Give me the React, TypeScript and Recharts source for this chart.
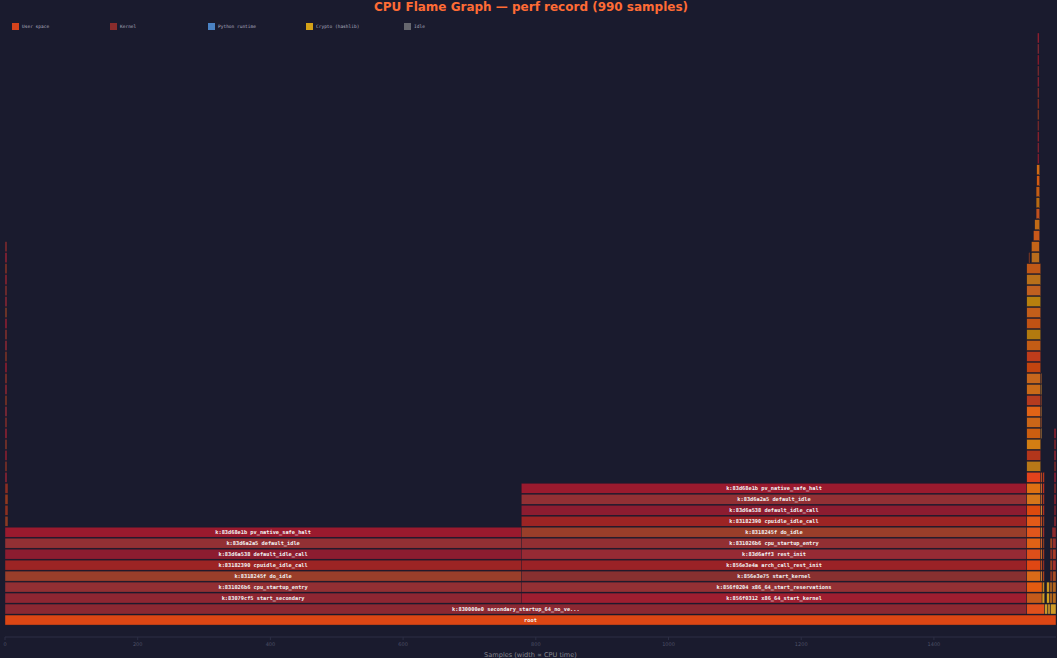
import { BarChart, Bar, XAxis, YAxis } from 'recharts';

// [name, depth, startSample, endSample]
type Frame = [string, number, number, number];

const TOTAL_WIDTH = 1584;
const TOP_DEPTH = 54;
const X_TICKS = [0, 200, 400, 600, 800, 1000, 1200, 1400];

const LEGEND_LABELS = ['User space', 'Kernel', 'Python runtime', 'Crypto (hashlib)', 'Idle'];
const LEGEND_COLORS = ['#d4431c', '#8a2c2c', '#4a82c4', '#d4a218', '#66676e'];

const ROOT_FRAMES: Frame[] = [
  ['root', 0, 0, 1584],
  ['k:830000e0 secondary_startup_64_no_verify', 1, 0, 1540],
];

const SECONDARY_CPU_FRAMES: Frame[] = [
  ['k:83079cf5 start_secondary', 2, 0, 778],
  ['k:831026b6 cpu_startup_entry', 3, 0, 778],
  ['k:8318245f do_idle', 4, 0, 778],
  ['k:83182390 cpuidle_idle_call', 5, 0, 778],
  ['k:83d6a538 default_idle_call', 6, 0, 778],
  ['k:83d6a2a5 default_idle', 7, 0, 778],
  ['k:83d68e1b pv_native_safe_halt', 8, 0, 778],
];

const BOOT_CPU_FRAMES: Frame[] = [
  ['k:856f0312 x86_64_start_kernel', 2, 778, 1540],
  ['k:856f0204 x86_64_start_reservations', 3, 778, 1540],
  ['k:856e3e75 start_kernel', 4, 778, 1540],
  ['k:856e3e4a arch_call_rest_init', 5, 778, 1540],
  ['k:83d6aff3 rest_init', 6, 778, 1540],
  ['k:831026b6 cpu_startup_entry', 7, 778, 1540],
  ['k:8318245f do_idle', 8, 778, 1540],
  ['k:83182390 cpuidle_idle_call', 9, 778, 1540],
  ['k:83d6a538 default_idle_call', 10, 778, 1540],
  ['k:83d6a2a5 default_idle', 11, 778, 1540],
  ['k:83d68e1b pv_native_safe_halt', 12, 778, 1540],
];

// thin timer-interrupt tower on the far left
const TIMER_IRQ_FRAMES: Frame[] = [
  ['k:83e01566 asm_sysvec_apic_timer_interrupt', 9, 0, 4.5],
  ['k:83d5c2f0 sysvec_apic_timer_interrupt', 10, 0, 4.5],
  ['k:831969a0 irq_exit_rcu', 11, 0, 4.5],
  ['k:83196810 __irq_exit_rcu', 12, 0, 4.5],
  ['k:83e0010c __do_softirq', 13, 0, 3],
  ['k:8311c2a7 run_timer_softirq', 14, 0, 3],
  ['k:8323f1c4 __run_timers', 15, 0, 3],
  ['k:8323ee52 call_timer_fn', 16, 0, 3],
  ['k:834f8a10 delayed_work_timer_fn', 17, 0, 3],
  ['k:83134d2b __queue_work', 18, 0, 3],
  ['k:83135f04 insert_work', 19, 0, 3],
  ['k:83140b7e wake_up_process', 20, 0, 3],
  ['k:8315ae91 try_to_wake_up', 21, 0, 3],
  ['k:8315c33a ttwu_do_activate', 22, 0, 3],
  ['k:83168a2c enqueue_task_fair', 23, 0, 3],
  ['k:8316795f enqueue_entity', 24, 0, 3],
  ['k:83160d48 update_load_avg', 25, 0, 3],
  ['k:8316fb20 __update_load_avg_se', 26, 0, 3],
  ['k:8315f3e9 check_preempt_curr', 27, 0, 3],
  ['k:83164c17 resched_curr', 28, 0, 3],
  ['k:8310a3d2 native_smp_send_reschedule', 29, 0, 3],
  ['k:830a6e81 x2apic_send_IPI', 30, 0, 3],
  ['k:830a1f53 __x2apic_send_IPI_dest', 31, 0, 3],
  ['k:830a0f1c native_apic_msr_write', 32, 0, 3],
  ['k:8309a2d0 native_write_msr', 33, 0, 3],
  ['k:8309a1b4 native_write_msr_safe', 34, 0, 3],
];

const PYTHON_FRAMES: Frame[] = [
  ['u:python3', 1, 1540, 1567],
  ['u:_start', 2, 1540, 1563],
  ['u:__libc_start_main', 3, 1540, 1563],
  ['u:__libc_start_call_main', 4, 1540, 1561],
  ['u:Py_BytesMain', 5, 1540, 1561],
  ['u:Py_RunMain', 6, 1540, 1561],
  ['u:pymain_run_python', 7, 1540, 1561],
  ['u:_PyRun_AnyFileObject', 8, 1540, 1561],
  ['u:_PyRun_SimpleFileObject', 9, 1540, 1561],
  ['u:pyrun_file', 10, 1540, 1561],
  ['u:run_mod', 11, 1540, 1561],
  ['u:run_eval_code_obj', 12, 1540, 1561],
  ['u:PyEval_EvalCode', 13, 1540, 1561],
  ['u:_PyEval_EvalFrameDefault', 14, 1540, 1561],
  ['py:<module>', 15, 1540, 1561],
  ['u:_PyEval_Vector', 16, 1540, 1561],
  ['py:main', 17, 1540, 1561],
  ['u:_PyFunction_Vectorcall', 18, 1540, 1561],
  ['py:run_benchmark', 19, 1540, 1561],
  ['u:PyObject_Vectorcall', 20, 1540, 1561],
  ['py:hash_workload', 21, 1540, 1561],
  ['u:_PyObject_MakeTpCall', 22, 1540, 1561],
  ['py:digest_file', 23, 1540, 1561],
  ['u:method_vectorcall_O', 24, 1540, 1561],
  ['py:update_chunks', 25, 1540, 1561],
  ['u:_hashlib_HASH_update', 26, 1540, 1561],
  ['u:EVP_DigestUpdate', 27, 1540, 1561],
  ['u:sha256_update', 28, 1540, 1561],
  ['u:ossl_sha256_update', 29, 1540, 1561],
  ['u:sha256_block_data_order_avx2', 30, 1540, 1561],
  ['u:__memmove_avx_unaligned_erms', 31, 1540, 1561],
  ['u:_PyBytes_FromSize', 32, 1540, 1561],
  ['u:PyGC_Collect', 33, 1543, 1544.5],
  ['u:PyObject_Malloc', 33, 1547, 1559],
  ['u:_PyObject_Malloc', 34, 1547, 1559],
  ['u:pymalloc_alloc', 35, 1550, 1559.5],
  ['u:allocate_from_new_pool', 36, 1552, 1559.5],
  ['u:_PyObject_ArenaMmap', 37, 1554, 1559.5],
  ['u:__mmap', 38, 1554, 1559.5],
  ['k:83e00130 entry_SYSCALL_64_after_hwframe', 39, 1554, 1559.5],
  ['k:83d5a8e1 do_syscall_64', 40, 1555, 1559.5],
  ['k:834d5c9f __x64_sys_mmap', 41, 1555, 1559.5],
  ['k:834d4e12 ksys_mmap_pgoff', 42, 1556, 1558.5],
  ['k:834d4a7a vm_mmap_pgoff', 43, 1556, 1558.5],
  ['k:834d1f3e do_mmap', 44, 1556, 1558.5],
  ['k:834d1a02 mmap_region', 45, 1556, 1558.5],
  ['k:83e01566 asm_sysvec_apic_timer_interrupt', 46, 1556, 1558.5],
  ['k:83d5c2f0 sysvec_apic_timer_interrupt', 47, 1556, 1558.5],
  ['k:83196a41 __sysvec_apic_timer_interrupt', 48, 1556, 1558.5],
  ['k:8323e4b8 hrtimer_interrupt', 49, 1556, 1558.5],
  ['k:8323d9e2 __hrtimer_run_queues', 50, 1556, 1558.5],
  ['k:83251b07 tick_nohz_highres_handler', 51, 1556, 1558.5],
  ['k:8322b7c4 update_process_times', 52, 1556, 1558.5],
  ['k:8312e8d5 scheduler_tick', 53, 1556, 1558.5],
];

// narrow siblings hugging the python tower
const SIDE_FRAMES: Frame[] = [
  ['u:_dl_start_user', 2, 1563, 1567],
  ['u:_dl_init', 3, 1563.5, 1566.5],
  ['u:_PyObject_GC_Link', 4, 1561, 1563],
  ['u:gc_collect_main', 5, 1561, 1563],
  ['u:deduce_unreachable', 6, 1561, 1563],
  ['u:move_unreachable', 7, 1561, 1563],
  ['u:visit_reachable', 8, 1561, 1563],
  ['u:subtract_refs', 9, 1561, 1563],
  ['u:visit_decref', 10, 1561, 1563],
  ['u:dict_traverse', 11, 1561, 1563],
  ['u:list_traverse', 12, 1561, 1563],
  ['u:tupletraverse', 13, 1561, 1563],
  ['u:PyUnicode_New', 17, 1561, 1562.5],
  ['u:_PyUnicode_JoinArray', 18, 1561, 1562.5],
  ['u:unicode_decode_utf8', 19, 1561, 1562.5],
  ['u:PyBytes_FromStringAndSize', 20, 1561, 1562.5],
  ['u:_PyLong_FromByteArray', 21, 1561, 1562.5],
  ['u:long_to_decimal_string', 22, 1561, 1562.5],
  ['u:__GI___libc_read', 4, 1564, 1566.5],
  ['k:83e0012a entry_SYSCALL_64', 5, 1564, 1566.5],
  ['k:83d5a8c0 x64_sys_call', 6, 1564, 1566.5],
  ['k:834fb2a0 ksys_read', 7, 1564, 1566.5],
  ['k:834f9c41 vfs_read', 8, 1564, 1566.5],
  ['k:8360d1b2 ext4_file_read_iter', 9, 1564, 1566.5],
  ['k:834a2e8c filemap_read', 10, 1564, 1566.5],
  ['k:834a1d50 copy_page_to_iter', 11, 1564, 1566.5],
  ['k:83902d4e _copy_to_user', 12, 1564, 1566.5],
  ['k:8390336a rep_movs_alternative', 13, 1564, 1566.5],
];

// worker-thread stacks at the right edge
const THREAD_FRAMES: Frame[] = [
  ['u:libc.so.6', 1, 1567, 1571],
  ['u:[unknown]', 1, 1571, 1576],
  ['u:libcrypto.so.3', 1, 1576, 1584],
  ['u:clone3', 2, 1570, 1574],
  ['u:start_thread', 2, 1574, 1579],
  ['u:pythread_wrapper', 2, 1579, 1584],
  ['u:thread_run', 3, 1570, 1574],
  ['u:t_bootstrap', 3, 1574, 1579],
  ['u:_PyThread_bootstrap', 3, 1579, 1584],
  ['u:worker_main', 4, 1575, 1579],
  ['u:queue_get', 4, 1579, 1584],
  ['u:file_digest', 5, 1575, 1579],
  ['u:_thread_wait', 5, 1579, 1584],
  ['u:readinto', 6, 1575, 1579],
  ['u:PyThread_acquire_lock_timed', 6, 1579, 1584],
  ['u:_io_FileIO_readinto', 7, 1575, 1579],
  ['u:sem_clockwait', 7, 1579, 1584],
  ['u:__futex_abstimed_wait_common', 8, 1578, 1584],
  ['k:83e0012b entry_SYSCALL_64_hw', 9, 1581, 1584],
  ['k:83d5a8c1 do_syscall_64_futex', 10, 1581, 1584],
  ['k:831f3a2e __x64_sys_futex', 11, 1581, 1584],
  ['k:831f2c10 do_futex', 12, 1581, 1584],
  ['k:831f0b52 futex_wait', 13, 1581, 1584],
  ['k:831f0a12 __futex_wait', 14, 1581, 1584],
  ['k:831f07b4 futex_wait_queue', 15, 1581, 1584],
  ['k:83d6a1e3 schedule', 16, 1581, 1584],
  ['k:83d69c8f __schedule', 17, 1581, 1584],
];

const FRAME_COLORS: Record<string, string> = {
  root: '#dc4614',
  'k:830000e0 secondary_startup_64_no_verify': '#8b2832',
  'k:83079cf5 start_secondary': '#8e2632',
  'k:831026b6 cpu_startup_entry': '#922f33',
  'k:8318245f do_idle': '#9a3e2a',
  'k:83182390 cpuidle_idle_call': '#9c2424',
  'k:83d6a538 default_idle_call': '#8c1c30',
  'k:83d6a2a5 default_idle': '#923034',
  'k:83d68e1b pv_native_safe_halt': '#9a1a2e',
  'k:856f0312 x86_64_start_kernel': '#9e1e30',
  'k:856f0204 x86_64_start_reservations': '#943034',
  'k:856e3e75 start_kernel': '#883030',
  'k:856e3e4a arch_call_rest_init': '#9a2226',
  'k:83d6aff3 rest_init': '#962a34',
  'k:83e01566 asm_sysvec_apic_timer_interrupt': '#8a3a22',
  'k:83d5c2f0 sysvec_apic_timer_interrupt': '#8c3020',
  'k:831969a0 irq_exit_rcu': '#90381e',
  'k:83196810 __irq_exit_rcu': '#8a2e22',
  'k:83e0010c __do_softirq': '#8c2434',
  'k:8311c2a7 run_timer_softirq': '#7e3026',
  'k:8323f1c4 __run_timers': '#8a2030',
  'k:8323ee52 call_timer_fn': '#803428',
  'k:834f8a10 delayed_work_timer_fn': '#8e2232',
  'k:83134d2b __queue_work': '#7c2c2a',
  'k:83135f04 insert_work': '#862a36',
  'k:83140b7e wake_up_process': '#7e3424',
  'k:8315ae91 try_to_wake_up': '#8a2632',
  'k:8315c33a ttwu_do_activate': '#82302a',
  'k:83168a2c enqueue_task_fair': '#8e1e30',
  'k:8316795f enqueue_entity': '#7a3226',
  'k:83160d48 update_load_avg': '#882834',
  'k:8316fb20 __update_load_avg_se': '#80302c',
  'k:8315f3e9 check_preempt_curr': '#8c2032',
  'k:83164c17 resched_curr': '#7e3a26',
  'k:8310a3d2 native_smp_send_reschedule': '#862634',
  'k:830a6e81 x2apic_send_IPI': '#7c2e2c',
  'k:830a1f53 __x2apic_send_IPI_dest': '#8a2430',
  'k:830a0f1c native_apic_msr_write': '#823226',
  'k:8309a2d0 native_write_msr': '#8c2234',
  'k:8309a1b4 native_write_msr_safe': '#7e2a2e',
  'u:python3': '#e0501c',
  'u:_start': '#c45a1a',
  'u:__libc_start_main': '#e35b10',
  'u:__libc_start_call_main': '#d96a18',
  'u:Py_BytesMain': '#e04713',
  'u:Py_RunMain': '#dc4f1a',
  'u:pymain_run_python': '#df6216',
  'u:_PyRun_AnyFileObject': '#e0561c',
  'u:_PyRun_SimpleFileObject': '#e25a18',
  'u:pyrun_file': '#dc4a0e',
  'u:run_mod': '#d5761a',
  'u:run_eval_code_obj': '#de7012',
  'u:PyEval_EvalCode': '#e2431c',
  'u:_PyEval_EvalFrameDefault': '#b87818',
  'py:<module>': '#b3361b',
  'u:_PyEval_Vector': '#d37e13',
  'py:main': '#cc5e10',
  'u:_PyFunction_Vectorcall': '#cb6618',
  'py:run_benchmark': '#e06316',
  'u:PyObject_Vectorcall': '#b53b1f',
  'py:hash_workload': '#c96a18',
  'u:_PyObject_MakeTpCall': '#c6661c',
  'py:digest_file': '#c2440f',
  'u:method_vectorcall_O': '#be3c1b',
  'py:update_chunks': '#c35c15',
  'u:_hashlib_HASH_update': '#b27a0f',
  'u:EVP_DigestUpdate': '#c05214',
  'u:sha256_update': '#c35e1a',
  'u:ossl_sha256_update': '#b7800e',
  'u:sha256_block_data_order_avx2': '#c06020',
  'u:__memmove_avx_unaligned_erms': '#b8701a',
  'u:_PyBytes_FromSize': '#c05817',
  'u:PyGC_Collect': '#c8501a',
  'u:PyObject_Malloc': '#b86c1c',
  'u:_PyObject_Malloc': '#c46418',
  'u:pymalloc_alloc': '#c9581a',
  'u:allocate_from_new_pool': '#bf6a16',
  'u:_PyObject_ArenaMmap': '#c0501e',
  'u:__mmap': '#b86a12',
  'k:83e00130 entry_SYSCALL_64_after_hwframe': '#c45c14',
  'k:83d5a8e1 do_syscall_64': '#d25a12',
  'k:834d5c9f __x64_sys_mmap': '#cf6a14',
  'k:834d4e12 ksys_mmap_pgoff': '#8f1d2d',
  'k:834d4a7a vm_mmap_pgoff': '#8a2430',
  'k:834d1f3e do_mmap': '#94222c',
  'k:834d1a02 mmap_region': '#7d2a2a',
  'k:83196a41 __sysvec_apic_timer_interrupt': '#86302a',
  'k:8323e4b8 hrtimer_interrupt': '#8f2430',
  'k:8323d9e2 __hrtimer_run_queues': '#7e2b2e',
  'k:83251b07 tick_nohz_highres_handler': '#911c2c',
  'k:8322b7c4 update_process_times': '#862a34',
  'k:8312e8d5 scheduler_tick': '#9a2030',
  'u:_dl_start_user': '#d49a22',
  'u:_dl_init': '#c8841c',
  'u:_PyObject_GC_Link': '#e08a2c',
  'u:gc_collect_main': '#c9561c',
  'u:deduce_unreachable': '#d87a26',
  'u:move_unreachable': '#e0682a',
  'u:visit_reachable': '#cf8a30',
  'u:subtract_refs': '#d45a22',
  'u:visit_decref': '#e0902e',
  'u:dict_traverse': '#c96a24',
  'u:list_traverse': '#d8722a',
  'u:tupletraverse': '#cc5420',
  'u:PyUnicode_New': '#e39a3a',
  'u:_PyUnicode_JoinArray': '#d46a28',
  'u:unicode_decode_utf8': '#e08a30',
  'u:PyBytes_FromStringAndSize': '#cf5a24',
  'u:_PyLong_FromByteArray': '#e0962e',
  'u:long_to_decimal_string': '#d07028',
  'u:__GI___libc_read': '#a8401e',
  'k:83e0012a entry_SYSCALL_64': '#8e2e24',
  'k:83d5a8c0 x64_sys_call': '#a03a22',
  'k:834fb2a0 ksys_read': '#8a3a20',
  'k:834f9c41 vfs_read': '#9e2e2a',
  'k:8360d1b2 ext4_file_read_iter': '#943820',
  'k:834a2e8c filemap_read': '#b03020',
  'k:834a1d50 copy_page_to_iter': '#a83422',
  'k:83902d4e _copy_to_user': '#c03020',
  'k:8390336a rep_movs_alternative': '#b8381e',
  'u:libc.so.6': '#c99a2a',
  'u:[unknown]': '#b5832a',
  'u:libcrypto.so.3': '#cf9a26',
  'u:clone3': '#d4a21e',
  'u:start_thread': '#a8601c',
  'u:pythread_wrapper': '#b86a1a',
  'u:thread_run': '#cc9820',
  'u:t_bootstrap': '#9e5a1e',
  'u:_PyThread_bootstrap': '#b0621c',
  'u:worker_main': '#8c3420',
  'u:queue_get': '#a64a22',
  'u:file_digest': '#96401e',
  'u:_thread_wait': '#a0302a',
  'u:readinto': '#8a2e24',
  'u:PyThread_acquire_lock_timed': '#a83a26',
  'u:_io_FileIO_readinto': '#9a4420',
  'u:sem_clockwait': '#96302c',
  'u:__futex_abstimed_wait_common': '#8c2a2e',
  'k:83e0012b entry_SYSCALL_64_hw': '#8e2a34',
  'k:83d5a8c1 do_syscall_64_futex': '#7e2230',
  'k:831f3a2e __x64_sys_futex': '#902432',
  'k:831f2c10 do_futex': '#82282e',
  'k:831f0b52 futex_wait': '#8c2036',
  'k:831f0a12 __futex_wait': '#7c2a2c',
  'k:831f07b4 futex_wait_queue': '#922634',
  'k:83d6a1e3 schedule': '#80262e',
  'k:83d69c8f __schedule': '#8e2232',
};

const FALLBACK_COLOR = '#c0501a';
const BG = '#1a1b2e';
const AXIS_COLOR = '#2c2e44';
const LABEL_CHAR_W = 3.2;
const MAX_LABEL = 40;

const ALL_FRAMES: Frame[] = [
  ...ROOT_FRAMES,
  ...SECONDARY_CPU_FRAMES,
  ...BOOT_CPU_FRAMES,
  ...TIMER_IRQ_FRAMES,
  ...PYTHON_FRAMES,
  ...SIDE_FRAMES,
  ...THREAD_FRAMES,
];

// one row per depth (top first), frames in a row spread over slots f0, f1, ...
const ROWS: Record<string, unknown>[] = [];
let slotCount = 0;
for (let d = TOP_DEPTH; d >= -1; d--) {
  const row: Record<string, unknown> = { depth: d };
  const inRow = ALL_FRAMES.filter((f) => f[1] === d).sort((a, b) => a[2] - b[2]);
  inRow.forEach((f, i) => {
    row[`f${i}`] = [f[2], f[3]];
    row[`n${i}`] = f[0];
  });
  slotCount = Math.max(slotCount, inRow.length);
  ROWS.push(row);
}

function fitLabel(name: string, width: number) {
  const text = name.length > MAX_LABEL ? name.slice(0, MAX_LABEL - 3) + '...' : name;
  if (text.length * LABEL_CHAR_W + 6 > width) return null;
  return text;
}

function FrameRect(props: any) {
  const { x, y, width, height, frameName } = props;
  if (!frameName || !(width > 0) || !(height > 0)) return null;
  const label = fitLabel(frameName, width);
  return (
    <g>
      <rect
        x={x}
        y={y}
        width={width}
        height={height}
        fill={FRAME_COLORS[frameName] ?? FALLBACK_COLOR}
        stroke={BG}
        strokeWidth={0.4}
      />
      {label && (
        <text
          x={x + width / 2}
          y={y + height / 2}
          textAnchor="middle"
          dominantBaseline="central"
          fontSize={5.3}
          fontWeight="bold"
          fontFamily="DejaVu Sans Mono, monospace"
          fill="#f2f2f2"
        >
          {label}
        </text>
      )}
    </g>
  );
}

export default function App() {
  return (
    <div
      style={{
        position: 'fixed',
        left: 0,
        top: 0,
        width: 1057,
        height: 658,
        background: BG,
        fontFamily: 'DejaVu Sans, sans-serif',
        overflow: 'hidden',
      }}
    >
      <BarChart
        width={1057}
        height={658}
        data={ROWS}
        layout="vertical"
        margin={{ top: 22, right: 1, bottom: 0, left: 5 }}
        barGap={-10}
        barCategoryGap={0}
      >
        <XAxis
          type="number"
          domain={[0, TOTAL_WIDTH]}
          ticks={X_TICKS}
          interval={0}
          allowDataOverflow
          height={21}
          axisLine={{ stroke: AXIS_COLOR }}
          tickLine={{ stroke: AXIS_COLOR }}
          tickSize={3}
          tickMargin={2}
          tick={{ fill: '#4d5066', fontSize: 5 }}
          label={{
            value: 'Samples (width ∝ CPU time)',
            position: 'insideBottom',
            offset: 1,
            fill: '#85868f',
            fontSize: 6.6,
          }}
        />
        <XAxis
          xAxisId="top"
          orientation="top"
          type="number"
          domain={[0, TOTAL_WIDTH]}
          height={0}
          tick={false}
          tickLine={false}
          axisLine={{ stroke: AXIS_COLOR }}
        />
        <YAxis
          type="category"
          dataKey="depth"
          width={0}
          tick={false}
          tickLine={false}
          axisLine={{ stroke: AXIS_COLOR }}
        />
        <YAxis
          yAxisId="right"
          orientation="right"
          type="category"
          dataKey="depth"
          width={0}
          tick={false}
          tickLine={false}
          axisLine={{ stroke: AXIS_COLOR }}
        />
        {Array.from({ length: slotCount }, (_, i) => (
          <Bar
            key={i}
            dataKey={`f${i}`}
            barSize={10}
            isAnimationActive={false}
            shape={(p: any) => <FrameRect {...p} frameName={p.payload?.[`n${i}`]} />}
          />
        ))}
      </BarChart>

      <div
        style={{
          position: 'absolute',
          left: 5,
          top: 1,
          width: 1052,
          textAlign: 'center',
          fontSize: 12,
          lineHeight: '13px',
          fontWeight: 'bold',
          color: '#ff6b35',
        }}
      >
        CPU Flame Graph — perf record (990 samples)
      </div>

      {LEGEND_LABELS.map((label, i) => (
        <div
          key={label}
          style={{
            position: 'absolute',
            left: 12 + i * 98,
            top: 23,
            display: 'flex',
            alignItems: 'center',
            height: 7,
          }}
        >
          <span
            style={{
              display: 'inline-block',
              width: 7,
              height: 7,
              background: LEGEND_COLORS[i],
              marginRight: 3,
            }}
          />
          <span
            style={{
              fontFamily: 'DejaVu Sans Mono, monospace',
              fontSize: 4.5,
              color: '#b0b0c0',
              whiteSpace: 'nowrap',
            }}
          >
            {label}
          </span>
        </div>
      ))}
    </div>
  );
}
